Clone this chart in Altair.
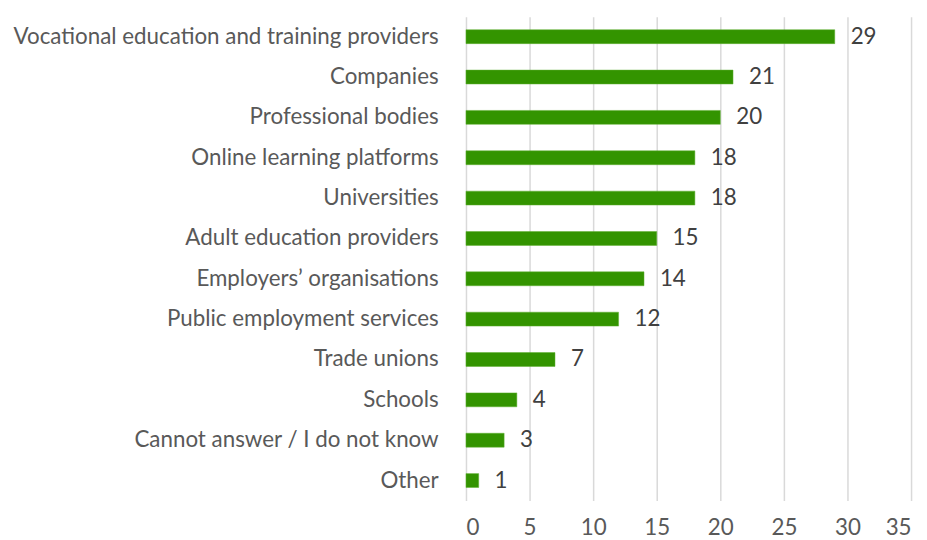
import altair as alt
import pandas as pd

categories = [
    "Vocational education and training providers",
    "Companies",
    "Professional bodies",
    "Online learning platforms",
    "Universities",
    "Adult education providers",
    "Employers\u2019 organisations",
    "Public employment services",
    "Trade unions",
    "Schools",
    "Cannot answer / I do not know",
    "Other",
]
values = [29, 21, 20, 18, 18, 15, 14, 12, 7, 4, 3, 1]

df = pd.DataFrame({"category": categories, "value": values})

FONT = "Lato"
FS = 22.5
TXT = "#595959"

base = alt.Chart(df).encode(
    y=alt.Y("category:N", sort=categories, title=None,
            scale=alt.Scale(paddingInner=0.65, paddingOuter=0.32),
            axis=alt.Axis(domain=False, ticks=False, labelPadding=28,
                          labelFont=FONT, labelFontSize=FS, labelColor=TXT,
                          labelLimit=0)),
)

bars = base.mark_bar(color="#339400", size=14, stroke="#5fb030", strokeWidth=0.5).encode(
    x=alt.X("value:Q", title=None,
            scale=alt.Scale(domain=[0, 35], nice=False),
            axis=alt.Axis(values=[0, 5, 10, 15, 20, 25, 30, 35], domain=False, ticks=False,
                          grid=True, gridColor="#d9d9d9", gridWidth=1.5,
                          labelPadding=16, labelFont=FONT, labelFontSize=FS,
                          labelColor=TXT)),
)

labels = base.mark_text(align="left", baseline="middle", dx=16, font=FONT,
                        fontSize=FS, color="#404040").encode(
    x="value:Q", text="value:Q")

chart = (bars + labels).properties(
    width=448, height=487,
    padding={"left": 461, "top": 7, "right": 8, "bottom": 42},
    autosize=alt.AutoSizeParams(type="none"),
).configure_view(stroke=None)

chart.save("out.html", embed_options={"renderer": "svg", "actions": False})
